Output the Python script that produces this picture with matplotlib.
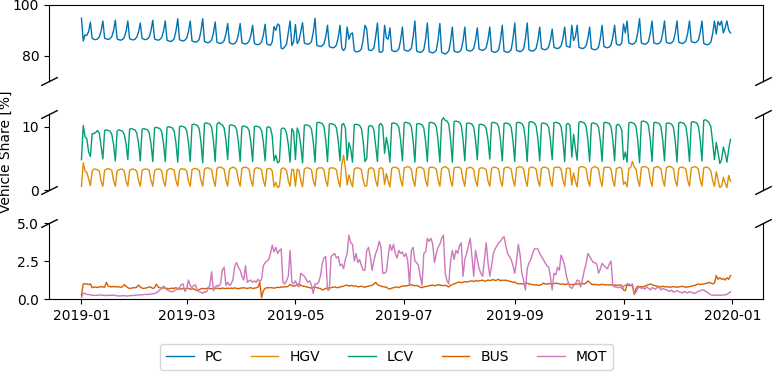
import matplotlib
matplotlib.use("Agg")
import matplotlib.pyplot as plt
import matplotlib.dates as mdates
import pandas as pd

# ---------------- data (daily shares in %, 2019) ----------------
# rows: first row Tue 1 Jan - Sun 6 Jan, then Mon..Sun weeks, last row 30-31 Dec
dates = pd.date_range("2019-01-01", "2019-12-31", freq="D")
labels = ["PC", "HGV", "LCV", "BUS", "MOT"]

pc_weeks = [
    [94.8, 85.8, 88.2, 88.0, 89.5, 93.2],
    [86.8, 86.5, 86.3, 86.6, 87.4, 89.7, 93.7],
    [86.9, 86.6, 86.4, 86.7, 87.5, 89.9, 94.0],
    [86.6, 86.3, 86.1, 86.4, 87.2, 89.6, 93.7],
    [86.7, 86.4, 86.2, 86.5, 87.3, 89.3, 92.9],
    [86.8, 86.5, 86.3, 86.6, 87.4, 89.9, 94.0],
    [86.6, 86.3, 86.1, 86.4, 87.2, 89.6, 93.7],
    [86.1, 85.8, 85.6, 85.9, 86.7, 89.8, 94.6],
    [86.3, 86.0, 85.8, 86.1, 86.9, 89.5, 93.7],
    [85.8, 85.5, 85.3, 85.6, 86.4, 89.6, 94.6],
    [85.6, 85.3, 85.1, 85.4, 86.2, 88.9, 93.3],
    [85.3, 85.0, 84.8, 85.1, 85.9, 88.5, 92.7],
    [85.1, 84.8, 84.6, 84.9, 85.7, 88.4, 92.7],
    [85.1, 84.8, 84.6, 84.9, 85.7, 88.0, 92.0],
    [84.8, 84.5, 84.3, 84.6, 85.4, 88.1, 92.4],
    [84.6, 84.3, 84.1, 85.5, 91.5, 90.0, 92.5],
    [92.0, 83.0, 82.7, 83.5, 84.5, 89.0, 93.7],
    [84.0, 85.5, 92.3, 84.8, 86.0, 89.5, 93.0],
    [85.0, 84.7, 84.5, 84.8, 85.6, 89.2, 94.7],
    [84.1, 83.8, 83.6, 83.9, 84.7, 87.5, 92.0],
    [83.6, 83.3, 83.1, 83.4, 84.2, 87.2, 92.0],
    [83.0, 82.0, 83.0, 91.3, 86.5, 88.5, 89.0],
    [82.1, 81.5, 81.6, 81.9, 82.7, 86.4, 92.0],
    [90.5, 82.3, 82.0, 82.2, 83.0, 87.5, 92.9],
    [81.5, 81.3, 81.8, 92.0, 87.0, 86.5, 91.0],
    [82.1, 81.8, 81.6, 81.9, 82.7, 86.1, 91.3],
    [82.3, 82.0, 81.8, 82.1, 82.9, 87.3, 93.7],
    [81.8, 81.5, 81.3, 81.6, 82.4, 86.6, 92.9],
    [81.6, 81.3, 81.1, 81.4, 82.2, 86.4, 92.7],
    [81.3, 81.0, 80.6, 81.1, 81.9, 85.6, 91.3],
    [81.8, 81.5, 81.3, 81.6, 82.4, 85.9, 91.3],
    [82.3, 82.0, 81.8, 82.1, 82.9, 86.1, 91.0],
    [82.6, 82.3, 82.1, 82.4, 83.2, 86.4, 91.3],
    [81.8, 81.5, 81.3, 81.6, 82.4, 86.2, 92.0],
    [81.8, 81.5, 81.3, 81.6, 82.4, 86.6, 92.9],
    [82.1, 81.8, 81.6, 81.9, 82.7, 86.8, 92.9],
    [82.3, 82.0, 81.8, 82.1, 82.9, 86.2, 91.3],
    [82.8, 82.5, 82.3, 82.6, 83.4, 86.1, 90.5],
    [83.3, 83.0, 82.8, 83.1, 83.9, 86.7, 91.3],
    [83.8, 83.5, 83.3, 92.0, 86.0, 87.5, 92.0],
    [83.3, 83.0, 82.8, 83.1, 83.9, 86.7, 91.3],
    [82.8, 82.5, 82.3, 82.6, 83.4, 86.8, 92.0],
    [83.6, 83.3, 83.1, 83.4, 84.2, 87.2, 92.0],
    [84.6, 84.3, 84.1, 85.0, 92.5, 89.0, 93.7],
    [85.0, 84.7, 84.5, 84.8, 85.6, 89.2, 94.6],
    [85.0, 84.7, 84.5, 84.8, 85.6, 88.8, 93.7],
    [85.1, 84.8, 84.6, 84.9, 85.7, 88.9, 93.7],
    [85.3, 85.0, 84.8, 85.1, 85.9, 88.9, 93.7],
    [85.3, 85.0, 84.8, 85.1, 85.9, 88.9, 93.7],
    [85.6, 85.3, 85.1, 85.4, 86.2, 89.2, 93.7],
    [84.8, 84.5, 84.3, 84.6, 85.4, 88.7, 93.7],
    [88.5, 93.5, 92.0, 93.7, 89.0, 91.0, 93.7],
    [90.0, 89.0],
]

lcv_weeks = [
    [4.8, 10.2, 8.4, 8.1, 6.0, 5.3],
    [8.9, 8.9, 9.1, 9.4, 9.0, 7.0, 4.9],
    [9.4, 9.5, 9.4, 9.3, 8.8, 7.2, 4.6],
    [9.3, 9.5, 9.4, 9.3, 8.8, 7.3, 4.8],
    [9.6, 9.7, 9.6, 9.5, 9.0, 7.4, 4.6],
    [9.6, 9.7, 9.6, 9.5, 9.0, 7.3, 4.5],
    [9.8, 9.9, 9.8, 9.7, 9.2, 7.4, 4.5],
    [9.9, 10.0, 9.9, 9.8, 9.3, 7.4, 4.4],
    [10.0, 10.1, 10.0, 9.9, 9.4, 7.5, 4.5],
    [10.3, 10.4, 10.3, 10.2, 9.7, 7.6, 4.3],
    [10.5, 10.6, 10.5, 10.4, 9.9, 7.8, 4.5],
    [10.4, 10.7, 10.4, 10.3, 9.8, 7.9, 4.8],
    [10.2, 10.3, 10.2, 10.1, 9.6, 7.6, 4.5],
    [10.0, 10.1, 10.0, 9.9, 9.4, 7.5, 4.5],
    [10.0, 10.1, 10.0, 9.9, 9.4, 7.6, 4.6],
    [9.9, 10.0, 9.8, 8.5, 4.6, 5.5, 4.3],
    [4.5, 9.6, 9.8, 9.7, 9.0, 7.2, 4.4],
    [9.7, 9.2, 4.8, 9.8, 9.0, 7.0, 4.3],
    [10.2, 10.3, 10.2, 10.1, 9.6, 7.6, 4.4],
    [10.6, 10.7, 10.6, 10.5, 10.0, 7.9, 4.5],
    [10.4, 10.5, 10.4, 10.3, 9.8, 7.8, 4.6],
    [10.3, 10.5, 9.8, 4.7, 7.5, 6.5, 4.4],
    [10.3, 10.4, 10.3, 10.2, 9.7, 7.7, 4.5],
    [5.0, 10.0, 10.2, 10.1, 9.5, 7.0, 4.5],
    [10.3, 10.5, 10.0, 5.8, 8.3, 6.8, 4.4],
    [10.5, 10.6, 10.5, 10.4, 9.9, 7.8, 4.6],
    [10.6, 10.7, 10.6, 10.5, 10.0, 7.8, 4.4],
    [10.4, 10.5, 10.4, 10.3, 9.8, 7.7, 4.5],
    [10.6, 10.7, 10.6, 10.5, 10.0, 7.8, 4.4],
    [11.0, 11.4, 11.0, 10.9, 10.4, 8.0, 4.4],
    [10.8, 10.9, 10.8, 10.7, 10.2, 8.0, 4.6],
    [10.5, 10.6, 10.5, 10.4, 9.9, 7.9, 4.8],
    [10.3, 10.4, 10.3, 10.2, 9.7, 7.9, 4.9],
    [10.6, 10.7, 10.6, 10.5, 10.0, 7.9, 4.6],
    [10.5, 10.6, 10.5, 10.4, 9.9, 7.8, 4.5],
    [10.6, 10.7, 10.6, 10.5, 10.0, 7.9, 4.5],
    [10.7, 10.8, 10.7, 10.6, 10.1, 8.0, 4.6],
    [10.5, 10.6, 10.5, 10.4, 9.9, 7.9, 4.8],
    [10.6, 10.7, 10.6, 10.5, 10.0, 7.9, 4.5],
    [10.4, 10.5, 10.2, 5.2, 8.8, 6.6, 4.7],
    [10.7, 10.8, 10.7, 10.6, 10.1, 7.9, 4.5],
    [10.5, 10.6, 10.5, 10.4, 9.9, 7.8, 4.5],
    [10.6, 10.7, 10.6, 10.5, 10.0, 7.9, 4.6],
    [10.2, 10.4, 10.1, 9.5, 4.8, 6.0, 4.4],
    [10.6, 10.7, 10.6, 10.5, 10.0, 7.8, 4.3],
    [10.8, 10.9, 10.8, 10.7, 10.2, 8.0, 4.5],
    [10.6, 10.7, 10.6, 10.5, 10.0, 7.9, 4.6],
    [10.5, 10.6, 10.5, 10.4, 9.9, 7.8, 4.4],
    [10.6, 10.7, 10.6, 10.5, 10.0, 7.9, 4.5],
    [10.7, 10.8, 10.7, 10.6, 10.1, 8.0, 4.6],
    [11.0, 11.1, 10.9, 10.6, 10.0, 7.5, 4.8],
    [7.5, 6.0, 4.2, 4.8, 6.8, 5.8, 4.4],
    [6.5, 8.0],
]

hgv_weeks = [
    [0.6, 4.3, 3.0, 2.8, 1.8, 0.7],
    [3.0, 3.3, 3.3, 3.2, 3.0, 1.4, 0.6],
    [3.1, 3.3, 3.4, 3.3, 3.1, 1.5, 0.6],
    [3.0, 3.2, 3.3, 3.3, 3.0, 1.4, 0.6],
    [3.1, 3.3, 3.3, 3.2, 3.0, 1.5, 0.6],
    [3.1, 3.3, 3.3, 3.3, 3.1, 1.5, 0.6],
    [3.0, 3.3, 3.3, 3.3, 3.0, 1.4, 0.6],
    [3.1, 3.3, 3.4, 3.3, 3.1, 1.5, 0.6],
    [3.1, 3.4, 3.3, 3.3, 3.0, 1.4, 0.6],
    [3.2, 3.4, 3.4, 3.3, 3.1, 1.5, 0.6],
    [3.3, 3.5, 3.5, 3.4, 3.2, 1.6, 0.6],
    [3.4, 3.6, 3.6, 3.5, 3.3, 1.6, 0.6],
    [3.3, 3.5, 3.6, 3.5, 3.2, 1.6, 0.6],
    [3.4, 3.6, 3.6, 3.5, 3.3, 1.6, 0.6],
    [3.3, 3.5, 3.5, 3.4, 3.2, 1.5, 0.6],
    [3.3, 3.4, 3.4, 3.0, 0.5, 1.2, 0.4],
    [0.6, 3.3, 3.5, 3.4, 3.1, 1.5, 0.6],
    [3.3, 3.2, 0.6, 3.3, 3.1, 1.5, 0.5],
    [3.3, 3.5, 3.5, 3.4, 3.2, 1.5, 0.6],
    [3.3, 3.5, 3.5, 3.5, 3.2, 1.5, 0.6],
    [3.4, 3.5, 3.5, 3.4, 3.2, 1.5, 0.5],
    [4.0, 5.5, 3.5, 0.8, 2.4, 1.4, 0.5],
    [3.3, 3.5, 3.5, 3.4, 3.2, 1.5, 0.6],
    [0.7, 3.3, 3.5, 3.5, 3.2, 1.5, 0.6],
    [3.4, 3.5, 3.4, 0.9, 2.6, 1.4, 0.5],
    [3.4, 3.6, 3.6, 3.5, 3.3, 1.6, 0.6],
    [3.5, 3.6, 3.7, 3.6, 3.3, 1.6, 0.6],
    [3.4, 3.6, 3.6, 3.5, 3.3, 1.5, 0.6],
    [3.5, 3.6, 3.6, 3.5, 3.3, 1.6, 0.6],
    [3.4, 3.6, 3.7, 3.5, 3.3, 1.5, 0.6],
    [3.5, 3.6, 3.6, 3.6, 3.3, 1.6, 0.6],
    [3.4, 3.5, 3.6, 3.5, 3.2, 1.5, 0.6],
    [3.3, 3.5, 3.5, 3.4, 3.2, 1.4, 0.6],
    [3.4, 3.6, 3.6, 3.5, 3.3, 1.5, 0.6],
    [3.4, 3.6, 3.6, 3.5, 3.3, 1.6, 0.6],
    [3.5, 3.6, 3.7, 3.6, 3.3, 1.6, 0.6],
    [3.4, 3.6, 3.6, 3.5, 3.3, 1.5, 0.6],
    [3.4, 3.6, 3.6, 3.5, 3.3, 1.5, 0.6],
    [3.5, 3.6, 3.6, 3.6, 3.3, 1.6, 0.6],
    [3.4, 3.5, 3.4, 0.8, 2.7, 1.4, 0.5],
    [3.5, 3.7, 3.7, 3.6, 3.4, 1.6, 0.6],
    [3.4, 3.6, 3.7, 3.6, 3.3, 1.6, 0.6],
    [3.5, 3.6, 3.6, 3.6, 3.3, 1.5, 0.6],
    [3.4, 3.5, 3.6, 3.4, 0.9, 1.3, 0.5],
    [3.4, 3.6, 4.5, 3.6, 3.3, 1.6, 0.6],
    [3.5, 3.7, 3.7, 3.6, 3.4, 1.6, 0.6],
    [3.5, 3.6, 3.7, 3.6, 3.3, 1.6, 0.6],
    [3.5, 3.7, 3.7, 3.6, 3.4, 1.6, 0.6],
    [3.4, 3.6, 3.6, 3.5, 3.3, 1.5, 0.6],
    [3.5, 3.6, 3.7, 3.6, 3.3, 1.6, 0.6],
    [3.5, 3.6, 3.6, 3.4, 3.0, 1.5, 0.6],
    [2.9, 1.6, 0.4, 0.6, 2.0, 1.1, 0.4],
    [2.3, 1.4],
]

bus_weeks = [
    [0.25, 1.0, 1.0, 1.0, 0.95, 1.0],
    [0.75, 0.78, 0.8, 0.76, 0.8, 0.82, 0.8],
    [0.78, 1.1, 0.85, 0.82, 0.8, 0.83, 0.8],
    [0.82, 0.8, 0.78, 0.8, 0.95, 0.85, 0.75],
    [0.7, 0.72, 0.74, 0.75, 0.78, 0.92, 0.8],
    [0.72, 0.7, 0.73, 0.75, 0.8, 0.78, 0.7],
    [0.75, 0.98, 0.8, 0.74, 0.72, 0.75, 0.7],
    [0.7, 0.68, 0.7, 0.72, 0.7, 0.75, 0.68],
    [0.65, 0.67, 0.7, 0.66, 0.68, 0.72, 0.65],
    [0.66, 0.68, 0.6, 0.55, 0.62, 0.68, 0.7],
    [0.68, 0.7, 0.72, 0.68, 0.7, 0.66, 0.7],
    [0.72, 0.7, 0.68, 0.73, 0.7, 0.7, 0.72],
    [0.7, 0.72, 0.7, 0.74, 0.7, 0.68, 0.72],
    [0.72, 0.75, 0.72, 0.7, 0.73, 0.75, 0.7],
    [0.72, 0.74, 0.78, 1.1, 0.1, 0.55, 0.7],
    [0.75, 0.74, 0.76, 0.74, 0.72, 0.75, 0.78],
    [0.76, 0.8, 0.78, 0.82, 0.8, 0.85, 0.95],
    [0.9, 0.85, 0.88, 0.95, 1.0, 0.9, 0.85],
    [0.85, 0.8, 0.78, 0.75, 0.72, 0.78, 0.8],
    [0.75, 0.72, 0.7, 0.6, 0.65, 0.7, 0.75],
    [0.72, 0.75, 0.78, 0.8, 0.76, 0.75, 0.8],
    [0.82, 0.85, 0.9, 0.92, 0.85, 0.9, 0.88],
    [0.85, 0.86, 0.8, 0.82, 0.85, 0.8, 0.78],
    [0.82, 0.85, 0.88, 0.9, 1.0, 1.1, 0.95],
    [0.9, 0.85, 0.82, 0.8, 0.78, 0.7, 0.65],
    [0.72, 0.75, 0.78, 0.8, 0.75, 0.82, 0.85],
    [0.88, 0.85, 0.9, 0.92, 0.95, 0.9, 0.88],
    [0.9, 0.85, 0.78, 0.75, 0.8, 0.82, 0.85],
    [0.88, 0.9, 0.92, 0.88, 0.9, 0.95, 0.92],
    [0.9, 0.88, 0.92, 0.85, 0.8, 0.9, 0.95],
    [1.0, 1.05, 1.1, 1.12, 1.08, 1.1, 1.15],
    [1.12, 1.15, 1.18, 1.2, 1.15, 1.22, 1.18],
    [1.2, 1.22, 1.25, 1.18, 1.2, 1.25, 1.22],
    [1.25, 1.28, 1.22, 1.25, 1.3, 1.2, 1.25],
    [1.22, 1.25, 1.2, 1.18, 1.15, 1.1, 1.12],
    [1.05, 1.0, 1.02, 1.0, 0.98, 1.02, 1.05],
    [1.0, 0.98, 0.95, 0.92, 0.95, 0.9, 0.92],
    [0.95, 1.05, 1.0, 0.98, 1.02, 1.0, 0.98],
    [1.02, 1.05, 1.03, 1.0, 0.98, 1.0, 0.95],
    [0.98, 1.0, 0.96, 0.95, 0.98, 0.97, 1.0],
    [0.98, 1.0, 1.02, 1.0, 1.05, 1.2, 1.1],
    [0.98, 0.95, 0.97, 0.95, 0.93, 0.95, 0.97],
    [0.95, 0.93, 0.95, 0.92, 0.95, 0.9, 0.93],
    [0.9, 0.92, 0.93, 0.9, 0.6, 0.55, 0.95],
    [0.9, 0.88, 0.9, 0.3, 0.7, 0.85, 0.8],
    [0.82, 0.8, 0.85, 0.9, 0.95, 1.0, 0.95],
    [0.9, 0.88, 0.85, 0.82, 0.8, 0.85, 0.8],
    [0.82, 0.8, 0.78, 0.8, 0.82, 0.8, 0.78],
    [0.8, 0.82, 0.85, 0.8, 0.78, 0.8, 0.82],
    [0.85, 0.88, 0.9, 0.95, 1.0, 0.95, 0.98],
    [1.0, 1.02, 1.05, 1.1, 1.05, 1.0, 1.05],
    [1.55, 1.3, 1.4, 1.3, 1.35, 1.25, 1.4],
    [1.3, 1.55],
]

mot_weeks = [
    [0.1, 0.4, 0.35, 0.3, 0.3, 0.28],
    [0.25, 0.25, 0.24, 0.25, 0.26, 0.27, 0.25],
    [0.24, 0.23, 0.25, 0.24, 0.26, 0.25, 0.24],
    [0.22, 0.2, 0.21, 0.22, 0.23, 0.2, 0.21],
    [0.22, 0.24, 0.23, 0.25, 0.26, 0.28, 0.27],
    [0.28, 0.3, 0.31, 0.3, 0.32, 0.33, 0.35],
    [0.36, 0.42, 0.5, 0.6, 0.7, 0.85, 0.75],
    [0.6, 0.55, 0.5, 0.48, 0.55, 0.6, 0.7],
    [0.75, 0.95, 1.0, 0.5, 0.7, 1.25, 0.9],
    [0.75, 0.9, 0.92, 0.6, 0.5, 0.45, 0.37],
    [0.5, 0.45, 0.7, 0.9, 1.8, 0.55, 0.8],
    [0.9, 0.85, 1.0, 1.9, 2.1, 0.9, 1.1],
    [0.9, 1.0, 1.3, 2.2, 2.4, 2.1, 1.9],
    [1.5, 1.25, 2.2, 1.1, 1.2, 1.25, 1.1],
    [1.2, 1.1, 1.3, 1.15, 1.3, 2.2, 2.4],
    [2.5, 2.6, 3.0, 3.55, 3.1, 3.4, 3.0],
    [3.2, 3.3, 1.1, 1.0, 1.2, 1.5, 3.2],
    [1.1, 1.0, 1.2, 0.9, 0.8, 1.7, 1.6],
    [1.5, 1.3, 1.1, 1.2, 0.9, 0.37, 1.0],
    [1.0, 1.1, 1.5, 2.3, 2.7, 2.8, 0.6],
    [0.6, 2.8, 2.9, 3.0, 2.7, 2.8, 2.2],
    [2.3, 2.0, 2.6, 3.0, 4.2, 3.7, 3.6],
    [2.5, 3.0, 2.4, 2.6, 2.2, 1.9, 1.9],
    [3.2, 3.4, 2.8, 1.9, 2.5, 3.0, 3.3],
    [3.8, 3.4, 1.7, 1.7, 1.8, 2.8, 3.6],
    [3.2, 3.6, 3.0, 2.7, 3.2, 3.0, 3.1],
    [2.8, 3.0, 2.5, 0.9, 3.2, 3.4, 2.5],
    [2.4, 2.2, 1.5, 0.9, 3.0, 3.1, 4.0],
    [3.8, 4.0, 3.6, 2.4, 3.0, 3.4, 3.6],
    [4.0, 4.2, 1.7, 1.2, 1.0, 2.5, 3.2],
    [2.6, 3.2, 3.0, 3.5, 3.7, 1.5, 2.6],
    [3.0, 3.5, 4.0, 2.8, 1.5, 3.2, 2.6],
    [2.0, 1.7, 1.5, 2.6, 3.7, 2.4, 1.5],
    [2.2, 3.0, 3.3, 3.5, 3.7, 3.8, 4.0],
    [4.1, 3.5, 3.0, 2.8, 2.6, 2.2, 1.7],
    [2.5, 3.6, 2.9, 1.7, 1.2, 0.6, 2.0],
    [2.4, 2.6, 3.0, 3.3, 3.3, 3.3, 3.0],
    [2.8, 2.6, 2.4, 2.2, 2.1, 1.5, 0.6],
    [1.7, 1.6, 2.1, 1.9, 2.9, 2.6, 2.2],
    [1.5, 1.1, 0.8, 0.7, 0.9, 1.0, 1.25],
    [1.2, 0.8, 1.3, 1.9, 2.3, 3.0, 2.8],
    [2.6, 2.4, 2.4, 2.3, 1.7, 2.0, 2.35],
    [2.2, 2.1, 2.0, 2.3, 2.5, 0.9, 0.8],
    [0.8, 0.75, 0.8, 0.7, 0.85, 0.9, 1.0],
    [1.0, 0.9, 1.0, 0.37, 0.45, 0.7, 0.8],
    [0.7, 0.75, 0.65, 0.8, 0.7, 0.6, 0.75],
    [0.7, 0.65, 0.8, 0.75, 0.6, 0.7, 0.65],
    [0.6, 0.55, 0.5, 0.6, 0.45, 0.5, 0.55],
    [0.5, 0.45, 0.4, 0.5, 0.45, 0.4, 0.5],
    [0.45, 0.4, 0.37, 0.45, 0.5, 0.55, 0.6],
    [0.6, 0.5, 0.45, 0.35, 0.28, 0.26, 0.25],
    [0.27, 0.26, 0.25, 0.26, 0.27, 0.28, 0.3],
    [0.4, 0.48],
]

pc = [v for w in pc_weeks for v in w]
lcv = [v for w in lcv_weeks for v in w]
hgv = [v for w in hgv_weeks for v in w]
bus = [v for w in bus_weeks for v in w]
mot = [v for w in mot_weeks for v in w]
for s in (pc, lcv, hgv, bus, mot):
    assert len(s) == len(dates), len(s)

colors = {"PC": "#0173B2", "HGV": "#DE8F05", "LCV": "#029E73",
          "BUS": "#D55E00", "MOT": "#CC78BC"}

# ---------------- figure ----------------
fig = plt.figure(figsize=(7.73, 3.72), dpi=100)
gs = fig.add_gridspec(3, 1, left=0.0634, right=0.987, top=0.9866,
                      bottom=0.196, hspace=0.434)
ax1 = fig.add_subplot(gs[0])
ax2 = fig.add_subplot(gs[1], sharex=ax1)
ax3 = fig.add_subplot(gs[2], sharex=ax1)

lw = 1.0
h_pc, = ax1.plot(dates, pc, color=colors["PC"], lw=lw, label="PC")
h_lcv, = ax2.plot(dates, lcv, color=colors["LCV"], lw=lw, label="LCV")
h_hgv, = ax2.plot(dates, hgv, color=colors["HGV"], lw=lw, label="HGV")
h_bus, = ax3.plot(dates, bus, color=colors["BUS"], lw=lw, label="BUS")
h_mot, = ax3.plot(dates, mot, color=colors["MOT"], lw=lw, label="MOT")

ax1.set_ylim(70, 100)
ax1.set_yticks([80, 100])
ax2.set_ylim(0, 12)
ax2.set_yticks([0, 10])
ax3.set_ylim(0, 5)
ax3.set_yticks([0.0, 2.5, 5.0])

ax1.spines["bottom"].set_visible(False)
ax2.spines["top"].set_visible(False)
ax2.spines["bottom"].set_visible(False)
ax3.spines["top"].set_visible(False)
for ax in (ax1, ax2):
    ax.tick_params(axis="x", which="both", bottom=False, labelbottom=False)

ax3.xaxis.set_major_locator(mdates.MonthLocator(bymonth=[1, 3, 5, 7, 9, 11]))
ax3.xaxis.set_major_formatter(mdates.DateFormatter("%Y-%m"))

# break marks
d = 0.5
kw = dict(marker=[(-1, -d), (1, d)], markersize=12, linestyle="none",
          color="k", mec="k", mew=1, clip_on=False)
ax1.plot([0, 1], [0, 0], transform=ax1.transAxes, **kw)
ax2.plot([0, 1], [1, 1], transform=ax2.transAxes, **kw)
ax2.plot([0, 1], [0, 0], transform=ax2.transAxes, **kw)
ax3.plot([0, 1], [1, 1], transform=ax3.transAxes, **kw)

ax2.set_ylabel("Vehicle Share [%]")
ax2.yaxis.set_label_coords(-0.05, 0.5)

fig.legend([h_pc, h_hgv, h_lcv, h_bus, h_mot], labels, loc="lower center",
           ncol=5, bbox_to_anchor=(0.5, -0.012))

fig.savefig("out.png", dpi=100)
